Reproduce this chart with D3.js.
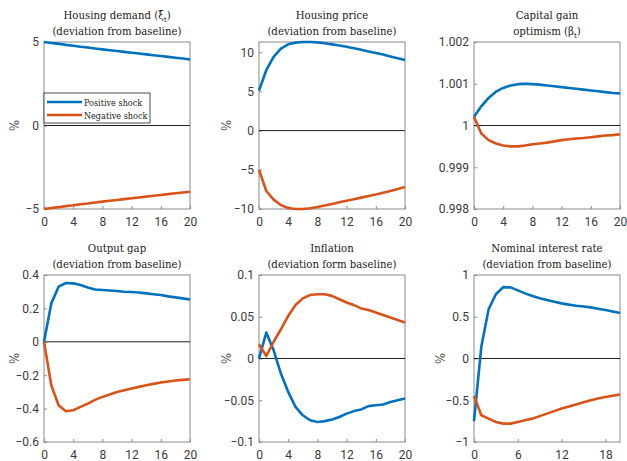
<!DOCTYPE html>
<html lang="en">
<head>
  <meta charset="UTF-8">
  <title>Housing shock impulse responses</title>
  <script src="https://d3js.org/d3.v7.min.js"></script>
  <style>
    body { margin: 0; background: #fff; }
    svg { display: block; }
  </style>
</head>
<body>
<svg id="chart" width="627" height="461"></svg>
<script>
// horizon 0..20
const periods = d3.range(0, 21);

const demandPos = [5.00, 4.94, 4.89, 4.83, 4.78, 4.72, 4.67, 4.61, 4.56, 4.51, 4.46, 4.41, 4.36, 4.31, 4.26, 4.21, 4.16, 4.11, 4.06, 4.01, 3.95];
const demandNeg = [-5.00, -4.94, -4.89, -4.83, -4.78, -4.72, -4.67, -4.61, -4.56, -4.51, -4.46, -4.41, -4.36, -4.31, -4.26, -4.21, -4.16, -4.11, -4.06, -4.01, -3.97];

const pricePos = [5.1, 7.7, 9.4, 10.45, 11.0, 11.22, 11.3, 11.3, 11.25, 11.15, 11.0, 10.85, 10.7, 10.5, 10.3, 10.1, 9.9, 9.7, 9.45, 9.22, 9.0];
const priceNeg = [-5.0, -7.7, -8.8, -9.5, -9.88, -10.0, -10.0, -9.9, -9.75, -9.55, -9.35, -9.15, -8.95, -8.75, -8.55, -8.35, -8.15, -7.92, -7.7, -7.45, -7.2];

const optPos = [1.00021, 1.00046, 1.00066, 1.00081, 1.0009, 1.00096, 1.00099, 1.001, 1.00099, 1.00098, 1.00096, 1.00094, 1.00092, 1.0009, 1.00088, 1.00086, 1.00084, 1.00082, 1.0008, 1.00078, 1.00077];
const optNeg = [1.00021, 0.99981, 0.99965, 0.99957, 0.99952, 0.9995, 0.9995, 0.99952, 0.99955, 0.99957, 0.99959, 0.99962, 0.99965, 0.99967, 0.99969, 0.9997, 0.99972, 0.99974, 0.99976, 0.99977, 0.99979];

const gapPos = [0, 0.23, 0.33, 0.352, 0.35, 0.34, 0.325, 0.313, 0.31, 0.307, 0.304, 0.3, 0.298, 0.295, 0.29, 0.285, 0.28, 0.272, 0.266, 0.26, 0.253];
const gapNeg = [0, -0.26, -0.38, -0.416, -0.41, -0.39, -0.37, -0.348, -0.33, -0.315, -0.3, -0.29, -0.28, -0.27, -0.26, -0.252, -0.244, -0.238, -0.232, -0.228, -0.224];

const inflPos = [0, 0.031, 0.01, -0.018, -0.04, -0.058, -0.068, -0.074, -0.076, -0.075, -0.073, -0.07, -0.066, -0.063, -0.061, -0.057, -0.056, -0.055, -0.052, -0.05, -0.048];
const inflNeg = [0.017, 0.003, 0.02, 0.035, 0.051, 0.064, 0.072, 0.076, 0.077, 0.077, 0.075, 0.071, 0.067, 0.064, 0.06, 0.058, 0.055, 0.052, 0.049, 0.046, 0.043];

const ratePos = [-0.75, 0.14, 0.59, 0.77, 0.855, 0.852, 0.816, 0.78, 0.748, 0.722, 0.7, 0.68, 0.66, 0.645, 0.632, 0.622, 0.612, 0.596, 0.58, 0.562, 0.544];
const rateNeg = [-0.448, -0.68, -0.72, -0.76, -0.78, -0.78, -0.76, -0.74, -0.72, -0.69, -0.66, -0.63, -0.6, -0.575, -0.55, -0.525, -0.5, -0.48, -0.46, -0.446, -0.432];

const titles = [
  ["Housing demand (ξ", "t", ")", "(deviation from baseline)"],
  ["Housing price", "", "", "(deviation from baseline)"],
  ["Capital gain", "", "", "optimism (β", "t", ")"],
  ["Output gap", "", "", "(deviation from baseline)"],
  ["Inflation", "", "", "(deviation form baseline)"],
  ["Nominal interest rate", "", "", "(deviation from baseline)"]
];
const yDomains = [[-5, 5], [-10, 11.3], [0.998, 1.002], [-0.6, 0.4], [-0.1, 0.1], [-1, 1]];
const yTicks = [[-5, 0, 5], [-10, -5, 0, 5, 10], [0.998, 0.999, 1, 1.001, 1.002], [-0.6, -0.4, -0.2, 0, 0.2, 0.4], [-0.1, -0.05, 0, 0.05, 0.1], [-1, -0.5, 0, 0.5, 1]];
const xTicks = [[0, 4, 8, 12, 16, 20], [0, 4, 8, 12, 16, 20], [0, 4, 8, 12, 16, 20], [0, 4, 8, 12, 16, 20], [0, 4, 8, 12, 16, 20], [0, 6, 12, 18]];
const zeroLines = [0, 0, 1, 0, 0, 0];
const posSeries = [demandPos, pricePos, optPos, gapPos, inflPos, ratePos];
const negSeries = [demandNeg, priceNeg, optNeg, gapNeg, inflNeg, rateNeg];
const legendLabels = ["Positive shock", "Negative shock"];

const blue = "#0072BD", orange = "#D95319";
const serif = "'DejaVu Serif Condensed', 'DejaVu Serif', serif";
const sans = "Roboto, 'Liberation Sans', Arial, sans-serif";

const svg = d3.select("#chart");

// axes boxes (left, top) for the 6 panels
const lefts = [44, 259, 474];
const tops = [42, 275];
const w = 146, h = 167;
const ylabOffset = [25, 28, 29];

function fmt(v) {
  return d3.format("~g")(+v.toFixed(4));
}

for (let i = 0; i < 6; i++) {
  const col = i % 3, row = Math.floor(i / 3);
  const g = svg.append("g").attr("transform", `translate(${lefts[col]},${tops[row]})`);

  const x = d3.scaleLinear().domain([0, 20]).range([0, w]);
  const y = d3.scaleLinear().domain(yDomains[i]).range([h, 0]);

  // axis box
  g.append("rect").attr("width", w).attr("height", h)
    .attr("fill", "none").attr("stroke", "#8a8a8a").attr("stroke-width", 1);

  const xAxis = g.append("g").attr("transform", `translate(0,${h})`)
    .call(d3.axisBottom(x).tickValues(xTicks[i]).tickSize(-3).tickPadding(8).tickFormat(d3.format("d")));
  const yAxis = g.append("g")
    .call(d3.axisLeft(y).tickValues(yTicks[i]).tickSize(-3).tickPadding(5).tickFormat(fmt));
  [xAxis, yAxis].forEach(a => {
    a.select(".domain").remove();
    a.selectAll(".tick line").attr("stroke", "#8a8a8a");
    a.selectAll(".tick text").style("font-family", sans).style("font-size", "12px").attr("fill", "#3a3a3a");
  });

  // zero / baseline line
  g.append("line")
    .attr("x1", x(0)).attr("x2", x(20))
    .attr("y1", y(zeroLines[i])).attr("y2", y(zeroLines[i]))
    .attr("stroke", "#222").attr("stroke-width", 1);

  const line = d3.line().x((d, k) => x(periods[k])).y(d => y(d));
  g.append("path").datum(posSeries[i]).attr("d", line)
    .attr("fill", "none").attr("stroke", blue).attr("stroke-width", 2.6).attr("stroke-linejoin", "round");
  g.append("path").datum(negSeries[i]).attr("d", line)
    .attr("fill", "none").attr("stroke", orange).attr("stroke-width", 2.6).attr("stroke-linejoin", "round");

  // titles
  const t = titles[i];
  const ty1 = row === 0 ? 19 : 252;
  const mkTitle = (yy) => svg.append("text").attr("text-anchor", "middle")
    .attr("x", lefts[col] + w / 2).attr("y", yy)
    .style("font-family", serif).style("font-size", "11.3px").style("font-weight", "normal").attr("fill", "#222");
  const l1 = mkTitle(ty1);
  l1.append("tspan").text(t[0]);
  if (t[1]) {
    l1.append("tspan").attr("dy", 3).style("font-size", "8px").text(t[1]);
    l1.append("tspan").attr("dy", -3).text(t[2]);
  }
  const l2 = mkTitle(ty1 + 16);
  l2.append("tspan").text(t[3]);
  if (t[4]) {
    l2.append("tspan").attr("dy", 3).style("font-size", "8px").text(t[4]);
    l2.append("tspan").attr("dy", -3).text(t[5]);
  }

  // y label
  if (i !== 2) {
    const lx = lefts[col] - ylabOffset[col];
    svg.append("text").attr("text-anchor", "middle")
      .attr("transform", `translate(${lx},${tops[row] + h / 2}) rotate(-90)`)
      .style("font-family", serif).style("font-size", "13px").attr("fill", "#444")
      .text("%");
  }
}

// legend in first panel
const leg = svg.append("g").attr("transform", "translate(44,93)");
leg.append("rect").attr("width", 106).attr("height", 30)
  .attr("fill", "#fff").attr("stroke", "#222").attr("stroke-width", 0.8);
[blue, orange].forEach((c, k) => {
  leg.append("line").attr("x1", 3).attr("x2", 38).attr("y1", 9 + k * 13).attr("y2", 9 + k * 13)
    .attr("stroke", c).attr("stroke-width", 2.6);
  leg.append("text").attr("x", 40).attr("y", 13 + k * 13)
    .style("font-family", serif).style("font-size", "9px").attr("fill", "#222")
    .text(legendLabels[k]);
});
</script>
</body>
</html>
